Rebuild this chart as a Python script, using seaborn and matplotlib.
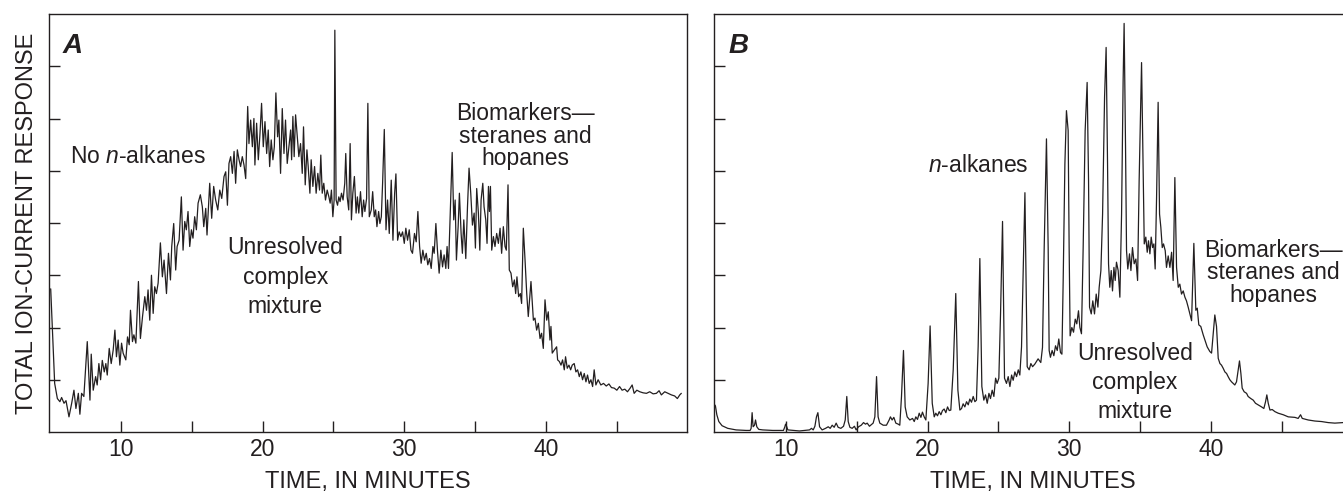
import matplotlib
matplotlib.use("Agg")
import matplotlib.pyplot as plt
import seaborn as sns
from matplotlib.ticker import FixedLocator, NullFormatter

sns.set_style("ticks")
plt.rcParams["font.family"] = ["Liberation Sans", "DejaVu Sans"]
plt.rcParams["mathtext.fontset"] = "custom"
plt.rcParams["mathtext.rm"] = "Liberation Sans"
plt.rcParams["mathtext.it"] = "Liberation Sans:italic"

INK = "#231f20"

# Panel A - no n-alkanes, big unresolved hump (time in minutes, response)
a_time = [
    5.05, 5.19, 5.33, 5.52, 5.70, 5.82, 5.99, 6.13, 6.34, 6.53, 6.69, 6.83, 7.00, 7.11,
    7.23, 7.39, 7.63, 7.82, 7.91, 8.05, 8.22, 8.33, 8.45, 8.57, 8.69, 8.83, 8.94, 9.04,
    9.18, 9.32, 9.46, 9.58, 9.69, 9.81, 9.93, 10.05, 10.16, 10.35, 10.47, 10.59, 10.68,
    10.82, 10.92, 11.06, 11.24, 11.38, 11.53, 11.69, 11.81, 11.92, 12.04, 12.16, 12.28,
    12.39, 12.51, 12.63, 12.79, 12.93, 13.05, 13.22, 13.36, 13.50, 13.59, 13.73, 13.87,
    13.97, 14.11, 14.27, 14.39, 14.51, 14.62, 14.74, 14.86, 14.98, 15.09, 15.21, 15.33,
    15.45, 15.61, 15.75, 15.85, 15.99, 16.08, 16.27, 16.41, 16.55, 16.69, 16.84, 16.98,
    17.12, 17.28, 17.40, 17.52, 17.63, 17.75, 17.87, 17.99, 18.10, 18.22, 18.34, 18.45,
    18.57, 18.69, 18.81, 18.95, 19.04, 19.16, 19.28, 19.39, 19.46, 19.58, 19.70, 19.82,
    19.93, 20.05, 20.17, 20.29, 20.40, 20.50, 20.61, 20.73, 20.83, 20.94, 21.06, 21.15,
    21.27, 21.39, 21.51, 21.62, 21.74, 21.86, 21.98, 22.05, 22.14, 22.23, 22.33, 22.45,
    22.56, 22.68, 22.80, 22.89, 23.01, 23.13, 23.22, 23.34, 23.43, 23.55, 23.67, 23.78,
    23.90, 24.02, 24.11, 24.21, 24.32, 24.44, 24.56, 24.68, 24.77, 24.86, 24.96, 25.05,
    25.10, 25.19, 25.29, 25.38, 25.47, 25.57, 25.68, 25.80, 25.87, 25.97, 26.08, 26.18,
    26.27, 26.37, 26.48, 26.60, 26.69, 26.79, 26.91, 27.03, 27.13, 27.22, 27.34, 27.43,
    27.53, 27.67, 27.77, 27.88, 27.98, 28.07, 28.19, 28.28, 28.38, 28.47, 28.59, 28.71,
    28.82, 28.94, 29.08, 29.20, 29.32, 29.41, 29.53, 29.64, 29.76, 29.88, 30.00, 30.11,
    30.23, 30.35, 30.47, 30.58, 30.72, 30.84, 30.96, 31.08, 31.19, 31.31, 31.43, 31.55,
    31.66, 31.78, 31.90, 32.02, 32.11, 32.23, 32.34, 32.46, 32.58, 32.70, 32.81, 32.93,
    33.02, 33.12, 33.26, 33.38, 33.49, 33.59, 33.68, 33.80, 33.89, 34.01, 34.10, 34.20,
    34.34, 34.46, 34.57, 34.69, 34.81, 34.93, 35.02, 35.11, 35.23, 35.33, 35.42, 35.54,
    35.63, 35.75, 35.84, 35.94, 36.01, 36.08, 36.17, 36.29, 36.40, 36.52, 36.64, 36.76,
    36.87, 36.99, 37.11, 37.20, 37.32, 37.41, 37.53, 37.65, 37.77, 37.86, 37.95, 38.07,
    38.19, 38.28, 38.40, 38.52, 38.64, 38.75, 38.94, 39.11, 39.22, 39.34, 39.46, 39.58,
    39.69, 39.81, 39.93, 40.05, 40.16, 40.28, 40.35, 40.44, 40.59, 40.75, 40.82, 40.94,
    41.06, 41.17, 41.29, 41.38, 41.50, 41.62, 41.74, 41.85, 41.99, 42.11, 42.23, 42.35,
    42.46, 42.58, 42.70, 42.82, 42.93, 43.05, 43.17, 43.29, 43.40, 43.52, 43.68, 43.87,
    44.06, 44.25, 44.44, 44.62, 44.81, 45.00, 45.19, 45.37, 45.56, 45.75, 45.94, 46.08,
    46.22, 46.41, 46.62, 46.85, 47.09, 47.32, 47.56, 47.79, 47.98, 48.14, 48.38, 48.61,
    48.85, 49.08, 49.27, 49.44, 49.55,
]
a_resp = [
    2.74, 1.82, 0.93, 0.64, 0.58, 0.66, 0.55, 0.60, 0.29, 0.55, 0.80, 0.45, 0.74, 0.34,
    0.74, 0.68, 1.73, 0.61, 1.49, 0.80, 1.06, 0.90, 1.31, 1.00, 1.37, 1.15, 1.31, 1.09,
    1.60, 1.31, 1.57, 1.95, 1.44, 1.76, 1.28, 1.70, 1.51, 1.38, 1.82, 1.67, 2.33,
    1.73, 1.86, 1.70, 2.88, 1.79, 2.21, 2.59, 2.33, 2.72, 2.14, 3.00, 2.27,
    2.78, 2.65, 2.85, 3.62, 2.97, 3.29, 2.65, 3.42, 2.91, 3.55, 3.99, 3.10,
    3.55, 3.67, 4.50, 3.48, 4.03, 3.87, 4.22, 3.55, 3.87, 3.71, 4.12, 3.87,
    4.38, 4.54, 4.31, 3.93, 4.28, 3.77, 4.76, 4.09, 4.70, 4.44, 4.25, 4.63,
    4.47, 4.89, 4.98, 4.34, 5.14, 5.27, 4.95, 5.37, 4.76, 5.40, 5.21, 5.08,
    5.27, 5.11, 4.85, 6.23, 5.52, 5.97, 5.46, 6.00, 5.11, 5.91, 5.21, 5.72,
    6.29, 5.46, 5.94, 5.33, 5.78, 5.08, 5.59, 5.21, 5.46, 6.49, 5.65, 5.97,
    4.95, 6.19, 5.33, 5.97, 5.14, 5.46, 5.78, 5.21, 6.04, 5.27, 6.07, 5.65,
    5.27, 5.52, 4.95, 5.84, 4.73, 5.40, 5.08, 4.57, 5.21, 4.70, 5.08, 4.57,
    4.95, 4.63, 5.30, 4.57, 4.76, 4.44, 4.63, 4.50, 4.38, 4.63, 4.12, 4.44,
    7.69, 4.44, 4.34, 4.50, 4.41, 4.57, 4.44, 4.76, 5.33, 4.50, 4.25, 5.52,
    4.06, 4.57, 4.89, 4.19, 4.50, 4.19, 4.60, 4.12, 4.44, 4.22, 4.47, 6.29,
    4.12, 4.25, 4.60, 4.12, 4.25, 3.93, 4.22, 3.99, 4.12, 4.76, 5.79, 3.87,
    4.44, 3.80, 4.82, 3.67, 4.57, 4.94, 3.67, 3.83, 3.74, 3.83, 3.61, 3.90,
    3.67, 3.87, 3.48, 3.42, 3.80, 3.64, 4.22, 3.55, 3.23, 3.48, 3.29, 3.42,
    3.20, 3.32, 3.13, 3.55, 3.42, 3.99, 3.48, 3.04, 3.48, 3.16, 3.39, 3.13,
    3.55, 3.13, 4.31, 5.35, 4.06, 4.44, 3.29, 3.93, 4.57, 3.80, 3.42, 4.06,
    3.32, 4.31, 5.05, 4.57, 3.96, 4.19, 3.52, 4.66, 4.19, 3.48, 4.44, 4.76,
    4.31, 4.06, 3.61, 4.70, 4.22, 4.70, 3.48, 3.74, 3.55, 3.80, 3.61, 3.90,
    3.42, 3.93, 3.55, 3.48, 4.73, 3.10, 3.04, 2.78, 2.91, 2.65, 2.97, 2.59,
    2.65, 2.46, 3.90, 3.30, 2.65, 2.21, 2.88, 2.14, 2.18, 1.95, 2.08, 1.79,
    1.89, 1.60, 2.53, 2.14, 2.30, 1.76, 2.02, 1.51, 1.57, 1.63, 1.38, 1.35,
    1.28, 1.38, 1.19, 1.44, 1.22, 1.28, 1.19, 1.28, 1.31, 1.15, 1.19, 1.06,
    1.15, 1.00, 1.12, 0.96, 1.09, 0.93, 1.00, 0.87, 1.19, 0.90, 1.00, 0.90,
    0.93, 0.88, 0.92, 0.85, 0.84, 0.80, 0.87, 0.80, 0.82, 0.77, 0.84, 0.90,
    0.74, 0.80, 0.77, 0.75, 0.74, 0.77, 0.73, 0.74, 0.79, 0.71, 0.77, 0.74,
    0.71, 0.69, 0.64, 0.71, 0.74,
]

# Panel B - n-alkane peak train over a smaller hump
b_time = [
    4.98, 5.03, 5.13, 5.27, 5.50, 5.90, 6.49, 7.20, 7.48, 7.55, 7.62, 7.69, 7.79, 7.86,
    7.95, 8.09, 8.37, 9.08, 9.83, 9.93, 9.98, 10.05, 10.14, 10.96, 11.67, 11.81, 11.93,
    12.05, 12.16, 12.26, 12.38, 12.56, 12.80, 12.99, 13.13, 13.27, 13.41, 13.55, 13.69,
    13.88, 14.07, 14.19, 14.30, 14.40, 14.52, 14.68, 14.84, 14.96, 15.13, 15.32, 15.48,
    15.62, 15.74, 15.90, 16.16, 16.28, 16.40, 16.51, 16.63, 16.87, 17.10, 17.29, 17.38,
    17.50, 17.62, 17.76, 17.93, 18.04, 18.16, 18.30, 18.42, 18.56, 18.75, 18.94, 19.06,
    19.17, 19.29, 19.41, 19.53, 19.64, 19.76, 19.88, 20.04, 20.18, 20.33, 20.47, 20.58,
    20.70, 20.82, 20.94, 21.05, 21.17, 21.29, 21.41, 21.53, 21.64, 21.81, 21.99, 22.14,
    22.28, 22.40, 22.51, 22.63, 22.75, 22.87, 22.98, 23.10, 23.22, 23.34, 23.45, 23.57,
    23.69, 23.83, 23.97, 24.09, 24.21, 24.33, 24.44, 24.56, 24.68, 24.80, 24.91, 25.03,
    25.15, 25.29, 25.43, 25.57, 25.69, 25.81, 25.93, 26.04, 26.16, 26.28, 26.40, 26.51,
    26.63, 26.87, 27.03, 27.17, 27.29, 27.41, 27.57, 27.80, 27.99, 28.11, 28.23, 28.39,
    28.51, 28.58, 28.67, 28.79, 28.91, 29.03, 29.15, 29.26, 29.38, 29.48, 29.57, 29.69,
    29.80, 29.92, 29.99, 30.06, 30.18, 30.30, 30.42, 30.53, 30.65, 30.75, 30.86, 30.98,
    31.12, 31.26, 31.36, 31.43, 31.55, 31.66, 31.78, 31.90, 32.02, 32.11, 32.23, 32.35,
    32.49, 32.60, 32.70, 32.77, 32.86, 32.96, 33.05, 33.15, 33.24, 33.33, 33.45, 33.57,
    33.69, 33.80, 33.87, 33.97, 34.04, 34.13, 34.25, 34.35, 34.46, 34.58, 34.70, 34.82,
    34.93, 35.10, 35.19, 35.29, 35.40, 35.50, 35.59, 35.69, 35.78, 35.88, 35.97, 36.06,
    36.16, 36.27, 36.37, 36.46, 36.56, 36.65, 36.77, 36.86, 36.98, 37.10, 37.22, 37.33,
    37.45, 37.57, 37.69, 37.80, 37.92, 38.04, 38.16, 38.27, 38.39, 38.51, 38.63, 38.79,
    38.93, 39.03, 39.14, 39.28, 39.45, 39.57, 39.73, 39.92, 40.04, 40.16, 40.27, 40.39,
    40.51, 40.63, 40.74, 40.86, 40.98, 41.10, 41.21, 41.33, 41.45, 41.57, 41.68, 41.80,
    41.92, 42.01, 42.11, 42.20, 42.34, 42.51, 42.62, 42.81, 42.98, 43.14, 43.33, 43.57,
    43.73, 43.85, 43.94, 44.04, 44.16, 44.32, 44.51, 44.74, 45.10, 45.45, 45.92, 46.15,
    46.32, 46.44, 46.86, 47.33, 47.80, 48.27, 48.74, 49.31, 49.90,
]
b_resp = [
    0.52, 0.50, 0.33, 0.20, 0.12, 0.07, 0.04, 0.03, 0.03, 0.07, 0.37, 0.10, 0.13, 0.23,
    0.10, 0.05, 0.04, 0.03, 0.03, 0.10, 0.15, 0.11, 0.04, 0.02, 0.04, 0.07, 0.04,
    0.11, 0.29, 0.37, 0.10, 0.04, 0.07, 0.10, 0.07, 0.13, 0.09, 0.17, 0.09,
    0.07, 0.11, 0.23, 0.68, 0.20, 0.09, 0.07, 0.11, 0.04, 0.10, 0.13, 0.18,
    0.15, 0.17, 0.11, 0.17, 0.29, 1.06, 0.29, 0.17, 0.13, 0.13, 0.23, 0.29,
    0.23, 0.28, 0.17, 0.15, 0.13, 0.68, 1.56, 0.48, 0.29, 0.23, 0.26, 0.20,
    0.29, 0.24, 0.36, 0.28, 0.38, 0.29, 0.23, 0.93, 2.03, 0.55, 0.29, 0.36,
    0.31, 0.39, 0.33, 0.41, 0.44, 0.37, 0.48, 0.41, 0.42, 1.19, 2.65, 0.80,
    0.42, 0.45, 0.54, 0.48, 0.58, 0.52, 0.63, 0.57, 0.68, 0.58, 0.61, 1.64,
    3.32, 0.87, 0.61, 0.71, 0.55, 0.74, 0.64, 0.80, 0.68, 1.03, 0.93, 1.03,
    2.27, 4.03, 1.03, 0.93, 1.06, 0.87, 1.09, 0.99, 1.15, 1.06, 1.19, 1.09,
    1.63, 4.58, 1.25, 1.19, 1.31, 1.25, 1.30, 1.40, 1.33, 1.62, 3.53, 5.61,
    3.53, 1.56, 1.43, 1.56, 1.46, 1.65, 1.56, 1.78, 1.52, 1.49, 2.90, 5.13,
    6.15, 5.77, 3.53, 1.84, 2.00, 1.91, 2.16, 2.07, 2.32, 2.00, 1.88, 3.53,
    5.77, 6.69, 4.81, 2.39, 2.26, 2.51, 2.26, 2.64, 2.39, 2.77, 3.09, 4.17,
    6.41, 7.36, 5.13, 3.22, 2.77, 3.09, 2.70, 3.15, 2.90, 3.25, 3.09, 2.58,
    4.17, 6.72, 7.82, 5.45, 3.47, 3.12, 3.41, 3.09, 3.53, 3.22, 3.31, 2.90,
    4.81, 7.07, 5.45, 3.60, 3.73, 3.44, 3.66, 3.41, 3.73, 3.53, 3.60, 3.12,
    4.49, 6.31, 4.17, 3.92, 3.53, 3.60, 3.47, 3.15, 3.37, 3.15, 3.44, 2.90,
    4.87, 3.15, 2.77, 2.83, 2.64, 2.70, 2.58, 2.51, 2.39, 2.26, 2.13, 3.61,
    2.33, 2.37, 2.05, 2.02, 1.86, 1.76, 1.63, 1.54, 1.51, 1.89, 2.24, 2.02,
    1.41, 1.31, 1.28, 1.22, 1.15, 1.12, 1.06, 1.00, 0.96, 0.93, 0.90, 0.96,
    1.19, 1.36, 1.12, 0.84, 0.77, 0.74, 0.68, 0.64, 0.61, 0.55, 0.52, 0.48,
    0.45, 0.58, 0.71, 0.55, 0.42, 0.43, 0.39, 0.36, 0.33, 0.29, 0.28, 0.26,
    0.33, 0.26, 0.23, 0.21, 0.20, 0.18, 0.17, 0.18, 0.16,
]

fig = plt.figure(figsize=(13.43, 4.95), dpi=100)
ax_a = fig.add_axes([49 / 1343, 63 / 495, 638 / 1343, 418 / 495])
ax_b = fig.add_axes([714 / 1343, 63 / 495, 638 / 1343, 418 / 495])

for ax, t, r, letter in [(ax_a, a_time, a_resp, "A"), (ax_b, b_time, b_resp, "B")]:
    sns.lineplot(x=t, y=r, ax=ax, color=INK, lw=0.9, estimator=None, sort=False)
    ax.set_xlim(4.93, 49.95)
    ax.set_ylim(0, 8)
    ax.xaxis.set_major_locator(FixedLocator([10, 20, 30, 40]))
    ax.xaxis.set_minor_locator(FixedLocator([15, 25, 35, 45]))
    ax.yaxis.set_major_locator(FixedLocator([1, 2, 3, 4, 5, 6, 7]))
    ax.yaxis.set_major_formatter(NullFormatter())
    ax.tick_params(axis="both", which="both", direction="in", length=8, width=1,
                   color=INK, labelsize=16.5, labelcolor=INK, pad=4)
    for sp in ax.spines.values():
        sp.set_color(INK)
        sp.set_linewidth(1.0)
        sp.set_visible(True)
    ax.set_xlabel("TIME, IN MINUTES", fontsize=17, color=INK)
    ax.xaxis.set_label_coords(0.5, -0.093)
    ax.text(0.022, 0.907, letter, transform=ax.transAxes, fontsize=20,
            fontweight="bold", fontstyle="italic", color=INK, va="baseline", ha="left")

ax_a.set_ylabel("TOTAL ION-CURRENT RESPONSE", fontsize=17, color=INK)
ax_a.yaxis.label.set_va("center")
ax_a.yaxis.set_label_coords(-0.034, 0.5)
ax_b.set_ylabel("")

# annotations, panel A (multi-line blocks anchored at the last line's baseline)
ax_a.text(11.23, 5.14, "No $n$-alkanes", fontsize=16.5, color=INK, ha="center", va="baseline")
ax_a.text(21.6, 2.28, "Unresolved\ncomplex\nmixture", fontsize=16.5, color=INK,
          ha="center", va="baseline", multialignment="center", linespacing=1.35)
ax_a.text(38.57, 5.11, "Biomarkers\u2014\nsteranes and\nhopanes", fontsize=16.5, color=INK,
          ha="center", va="baseline", multialignment="center", linespacing=0.97)

# annotations, panel B
ax_b.text(23.6, 4.98, "$n$-alkanes", fontsize=16.5, color=INK, ha="center", va="baseline")
ax_b.text(34.63, 0.26, "Unresolved\ncomplex\nmixture", fontsize=16.5, color=INK,
          ha="center", va="baseline", multialignment="center", linespacing=1.35)
ax_b.text(44.4, 2.49, "Biomarkers\u2014\nsteranes and\nhopanes", fontsize=16.5, color=INK,
          ha="center", va="baseline", multialignment="center", linespacing=0.97)

fig.savefig("out.png", dpi=100, facecolor="white")
